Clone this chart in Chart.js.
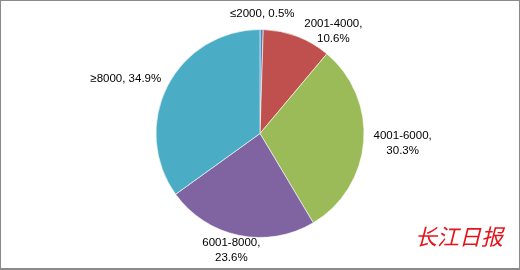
<!DOCTYPE html>
<html>
<head>
<meta charset="utf-8">
<script src="https://cdn.jsdelivr.net/npm/chart.js@4"></script>
<style>
  html, body { margin: 0; padding: 0; background: #fff; }
  #wrap { position: relative; width: 518px; height: 267px; border: 1px solid #8a8a8a; border-right-width: 2px; border-bottom-width: 2px; }
</style>
</head>
<body>
<div id="wrap"><canvas id="incomePie" width="518" height="267"></canvas></div>
<script>
var categories = ['≤2000', '2001-4000', '4001-6000', '6001-8000', '≥8000'];
var shares = [0.5, 10.6, 30.3, 23.6, 34.9];
var sliceColors = ['#4F81BD', '#C0504D', '#9BBB59', '#8064A2', '#4BACC6'];

// label text layout: one or two lines per slice
var labelLines = [
    [categories[0] + ', ' + shares[0] + '%'],
    [categories[1] + ',', shares[1] + '%'],
    [categories[2] + ',', shares[2] + '%'],
    [categories[3] + ',', shares[3] + '%'],
    [categories[4] + ', ' + shares[4] + '%']
];
// small nudges where Excel moved labels to avoid overlaps
var labelNudge = [[0, 0], [23, 16], [2, 0], [0, 0], [-3, 0]];

var outsideLabels = {
    id: 'outsideLabels',
    afterDatasetsDraw: function(chart) {
        var c = chart.ctx;
        var meta = chart.getDatasetMeta(0);
        c.save();
        c.font = '11.5px "Liberation Sans", Arial, sans-serif';
        c.fillStyle = '#000';
        c.textAlign = 'center';
        c.textBaseline = 'middle';
        var lh = 15;
        meta.data.forEach(function(arc, i) {
            var p = arc.getProps(['x', 'y', 'startAngle', 'endAngle', 'outerRadius'], true);
            var mid = (p.startAngle + p.endAngle) / 2;
            var r = p.outerRadius + 8;
            var ax = p.x + Math.cos(mid) * r;
            var ay = p.y + Math.sin(mid) * r;
            var lines = labelLines[i];
            var w = 0;
            lines.forEach(function(t) { w = Math.max(w, c.measureText(t).width); });
            var h = lines.length * lh;
            var cx = ax + Math.cos(mid) * w / 2 + labelNudge[i][0];
            var cy = ay + Math.sin(mid) * h / 2 + labelNudge[i][1];
            if (cy + h / 2 > chart.height - 3) cy = chart.height - 3 - h / 2;
            lines.forEach(function(t, k) {
                c.fillText(t, cx, cy - h / 2 + lh / 2 + k * lh);
            });
        });
        // newspaper watermark
        c.font = 'italic 22px "Noto Sans CJK SC", sans-serif';
        c.fillStyle = '#e8121a';
        c.textAlign = 'left';
        var mark = '长江日报';
        for (var j = 0; j < mark.length; j++) {
            c.fillText(mark[j], 414 + j * 22, 236);
        }
        c.restore();
    }
};

var ctx = document.getElementById('incomePie').getContext('2d');
var incomePie = new Chart(ctx, {
    type: 'pie',
    data: {
        labels: categories,
        datasets: [{
            data: shares,
            backgroundColor: sliceColors,
            borderColor: 'rgba(255,255,255,0.6)',
            borderWidth: 1
        }]
    },
    options: {
        responsive: false,
        animation: false,
        layout: { padding: { top: 28, bottom: 30, left: 0, right: 0 } },
        plugins: {
            legend: { display: false },
            tooltip: { enabled: false }
        }
    },
    plugins: [outsideLabels]
});
</script>
</body>
</html>
